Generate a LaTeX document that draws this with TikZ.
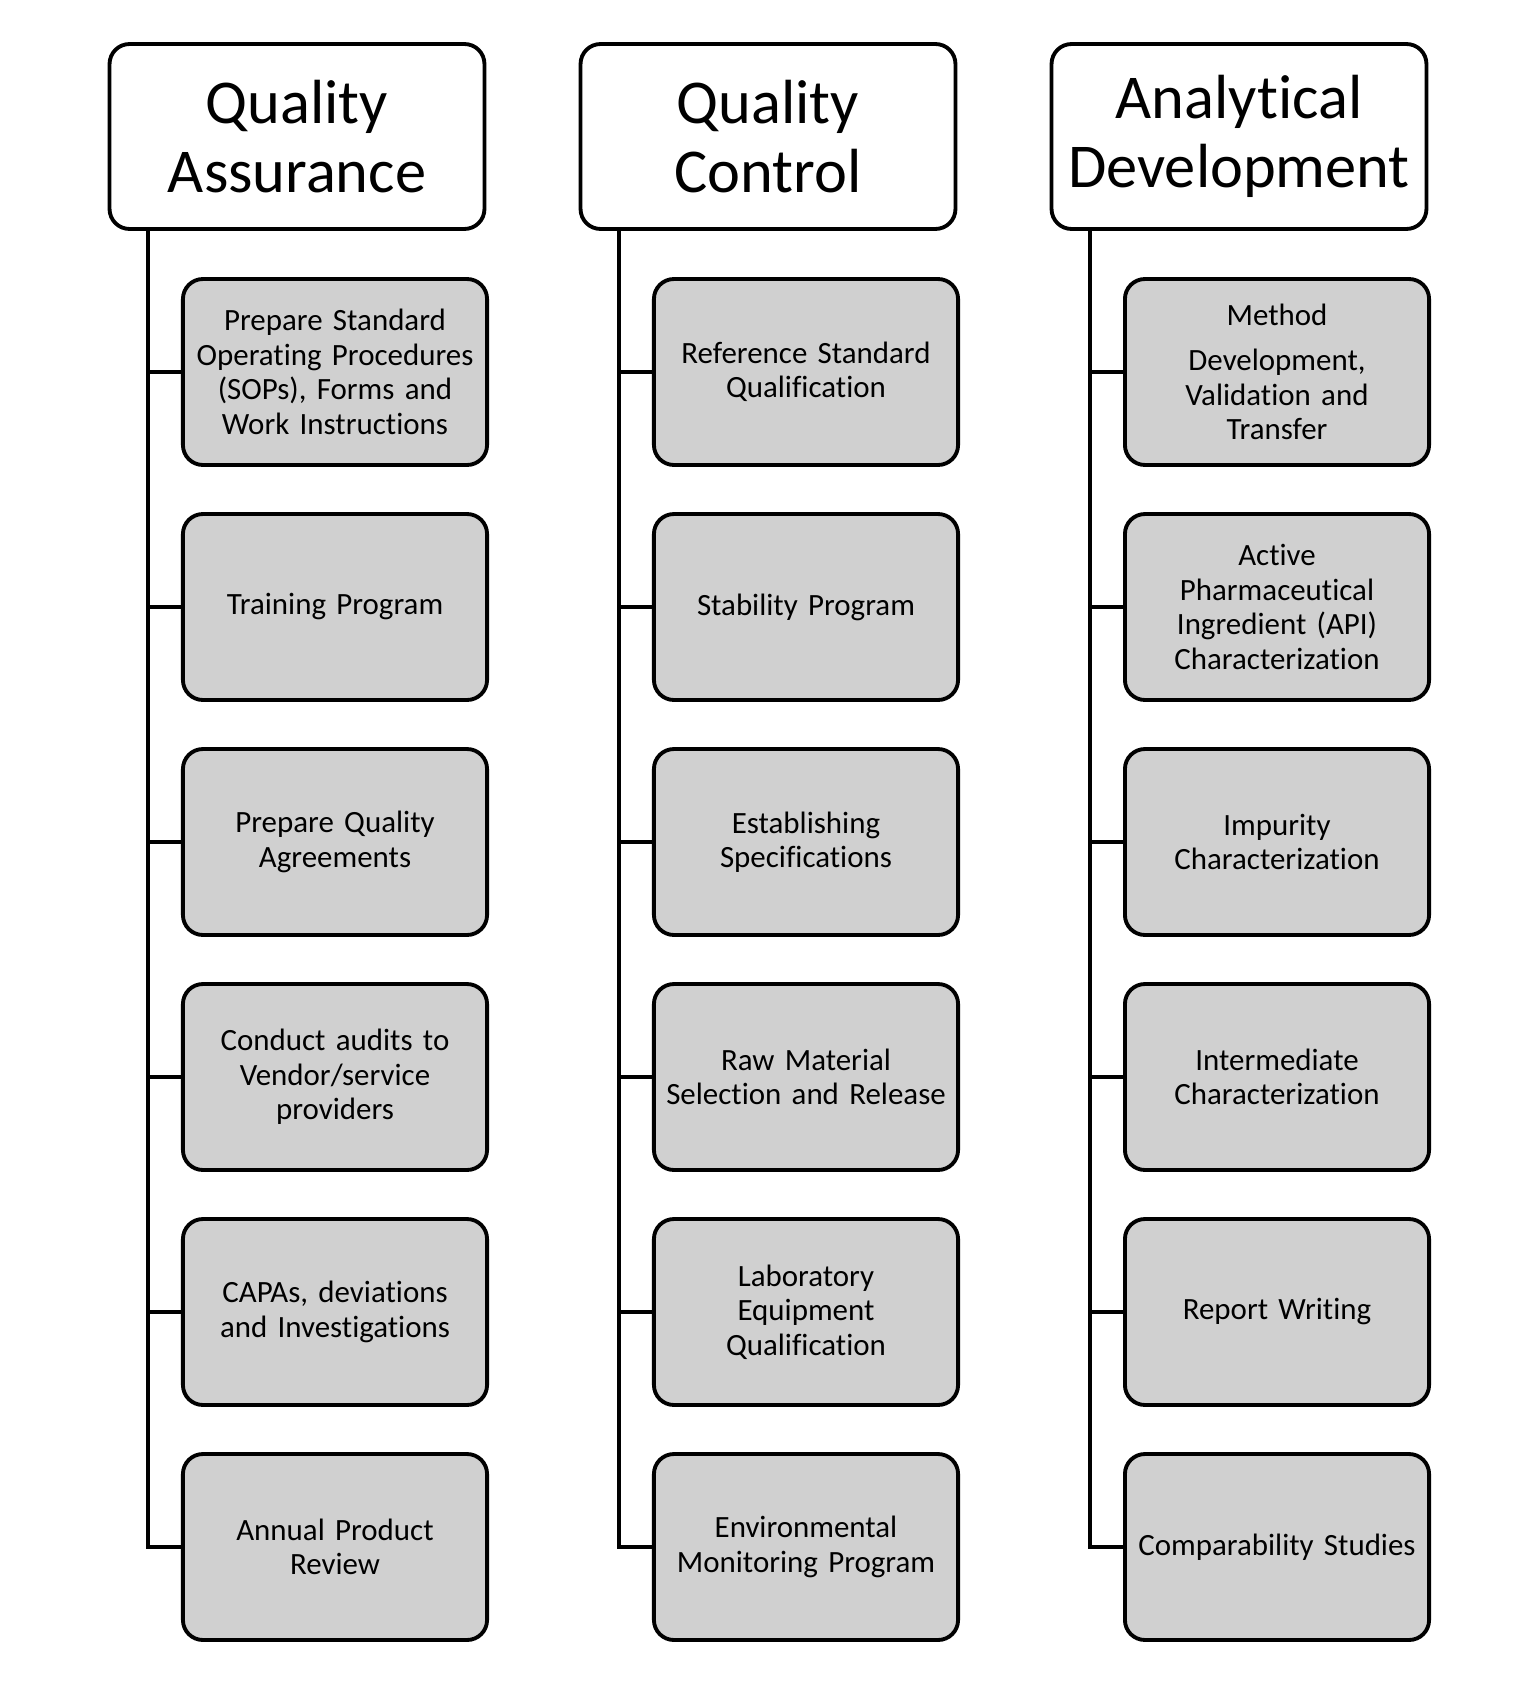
\documentclass[tikz,border=0pt]{standalone}
\usepackage{fontspec}
\setmainfont{Carlito}[Ligatures=NoCommon]
\usepackage{xcolor}
\usetikzlibrary{positioning, calc}
\definecolor{boxgray}{RGB}{208,208,208}

\begin{document}
\begin{tikzpicture}[x=0.02cm, y=-0.02cm,
    head/.style={draw, line width=2.2pt, rounded corners=0.4cm, fill=white,
      minimum width=7.5cm, minimum height=3.7cm, align=center,
      font=\fontsize{35.5}{39.5}\selectfont},
    task/.style={draw, line width=2.2pt, rounded corners=0.4cm, fill=boxgray,
      minimum width=5.96cm, minimum height=3.72cm, text width=5.85cm, align=center,
      font=\fontsize{17.6}{19.6}\selectfont},
    link/.style={line width=2.2pt}]
  \useasboundingbox (0,0) rectangle (1526,1700);

  % HEADERS
  \node[head] (qa) at (297,136.5) {Quality\\Assurance};
  \node[head] (qc) at (768,136.5) {Quality\\Control};
  \node[head] (ad) at (1239,136.5) {Analytical\\Development};

  % QUALITY ASSURANCE
  \node[task] (qa1) at (335,372) {Prepare Standard\\Operating Procedures\\(SOPs), Forms and\\Work Instructions};
  \node[task] (qa2) at (335,607) {Training Program};
  \node[task] (qa3) at (335,842) {Prepare Quality\\Agreements};
  \node[task] (qa4) at (335,1077) {Conduct audits to\\Vendor/service\\providers};
  \node[task] (qa5) at (335,1312) {CAPAs, deviations\\and Investigations};
  \node[task] (qa6) at (335,1547) {Annual Product\\Review};

  % QUALITY CONTROL
  \node[task] (qc1) at (806,372) {Reference Standard\\Qualification};
  \node[task] (qc2) at (806,607) {Stability Program};
  \node[task] (qc3) at (806,842) {Establishing\\Specifications};
  \node[task] (qc4) at (806,1077) {Raw Material\\Selection and Release};
  \node[task] (qc5) at (806,1312) {Laboratory\\Equipment\\Qualification};
  \node[task] (qc6) at (806,1547) {Environmental\\Monitoring Program};

  % ANALYTICAL DEVELOPMENT
  \node[task] (ad1) at (1277,372) {Method\\[6pt]Development,\\Validation and\\Transfer};
  \node[task] (ad2) at (1277,607) {Active\\Pharmaceutical\\Ingredient (API)\\Characterization};
  \node[task] (ad3) at (1277,842) {Impurity\\Characterization};
  \node[task] (ad4) at (1277,1077) {Intermediate\\Characterization};
  \node[task] (ad5) at (1277,1312) {Report Writing};
  \node[task] (ad6) at (1277,1547) {Comparability Studies};

  % TRUNKS
  \foreach \g in {qa,qc,ad} {
    \coordinate (\g-t) at ([xshift=0.8cm]\g.south west);
    \draw[link] (\g-t) |- (\g6.west);
    \foreach \i in {1,...,5}
      \draw[link] (\g-t |- \g\i.west) -- (\g\i.west);
  }
\end{tikzpicture}
\end{document}
